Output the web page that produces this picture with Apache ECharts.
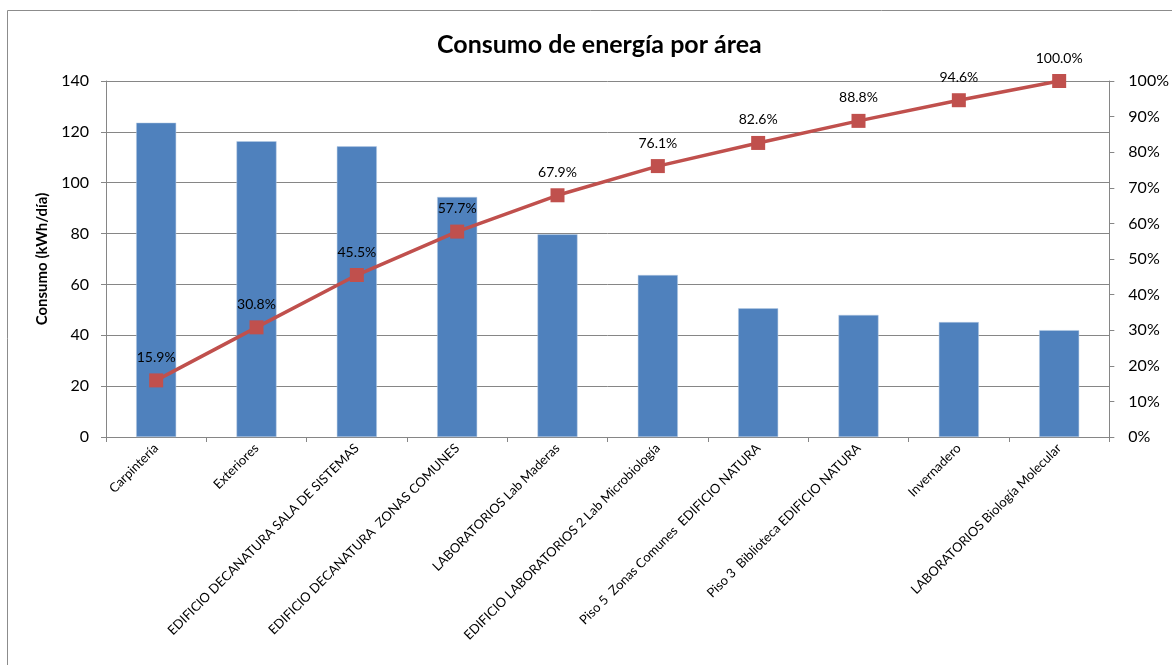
<!DOCTYPE html>
<html><head><meta charset="utf-8">
<script src="https://cdn.jsdelivr.net/npm/echarts@6/dist/echarts.min.js"></script>
<style>html,body{margin:0;padding:0;background:#fff}#c{width:1172px;height:665px}</style>
</head><body><div id="c"></div>
<script>
const categories = ["Carpintería","Exteriores","EDIFICIO DECANATURA SALA DE SISTEMAS","EDIFICIO DECANATURA  ZONAS COMUNES","LABORATORIOS Lab Maderas","EDIFICIO LABORATORIOS 2 Lab Microbiología","Piso 5  Zonas Comunes  EDIFICIO NATURA","Piso 3  Biblioteca EDIFICIO NATURA","Invernadero","LABORATORIOS Biología Molecular"];
const consumo = [123.6, 116.3, 114.3, 94.4, 79.7, 63.7, 50.6, 48.0, 45.2, 42.0];
const acumulado = [15.9, 30.8, 45.5, 57.7, 67.9, 76.1, 82.6, 88.8, 94.6, 100.0];

const FONT = 'Lato';
const axisGray = '#868686';
const chart = echarts.init(document.getElementById('c'), null, {renderer:'canvas'});
chart.setOption({
  animation:false,
  textStyle:{fontFamily:FONT},
  graphic:[{type:'rect', shape:{x:7.5,y:10.5,width:1200,height:700}, style:{fill:'none', stroke:'#8c8c8c', lineWidth:1}, silent:true}],
  title:{text:'Consumo de energía por área', left:432, top:27, itemGap:0,
    textStyle:{fontFamily:FONT, fontWeight:'bold', fontSize:25, color:'#000'}},
  grid:{left:106, right:62, top:81, bottom:228, containLabel:false},
  xAxis:{type:'category', data:categories,
    axisLine:{lineStyle:{color:axisGray}},
    axisTick:{show:true, alignWithLabel:false, length:5, lineStyle:{color:axisGray}},
    axisLabel:{rotate:45, interval:0, fontSize:13, color:'#000', fontFamily:FONT, margin:9}},
  yAxis:[
    {type:'value', min:0, max:140, interval:20,
     name:'Consumo (kWh/día)', nameLocation:'middle', nameGap:56,
     nameTextStyle:{fontWeight:'bold', fontSize:15, color:'#000', fontFamily:FONT},
     axisLine:{show:true, lineStyle:{color:axisGray}},
     axisTick:{show:true, length:5, lineStyle:{color:axisGray}},
     splitLine:{lineStyle:{color:axisGray}},
     axisLabel:{fontSize:16, color:'#000', margin:17, fontFamily:FONT}},
    {type:'value', min:0, max:100, interval:10, position:'right',
     axisLine:{show:true, lineStyle:{color:axisGray}},
     axisTick:{show:true, length:5, lineStyle:{color:axisGray}},
     splitLine:{show:false},
     axisLabel:{fontSize:16, color:'#000', margin:19, fontFamily:FONT, formatter:'{value}%'}}
  ],
  series:[
    {type:'bar', data:consumo, yAxisIndex:0, barWidth:40,
     itemStyle:{color:'#4F81BD', borderColor:'#b9cde5', borderWidth:0.5}},
    {type:'line', data:acumulado, yAxisIndex:1, symbol:'rect', symbolSize:14,
     lineStyle:{color:'#C0504D', width:3.5}, itemStyle:{color:'#C0504D'},
     label:{show:true, position:'top', distance:9, fontSize:14, color:'#000', fontFamily:FONT,
       formatter:p=>p.value.toFixed(1)+'%'}}
  ]
});
</script></body></html>
